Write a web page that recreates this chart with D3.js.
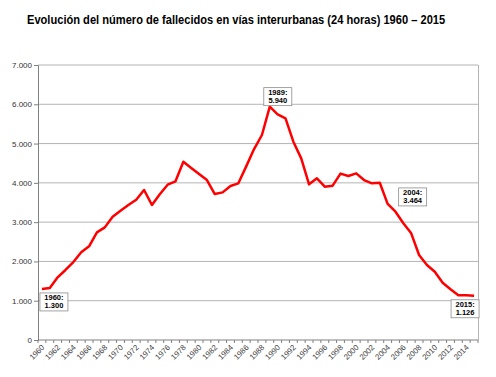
<!DOCTYPE html>
<html>
<head>
<meta charset="utf-8">
<script src="https://cdn.jsdelivr.net/npm/d3@7"></script>
<style>
  body { margin: 0; background: #fff; }
  text { font-family: Arial, "Liberation Sans", sans-serif; }
</style>
</head>
<body>
<div id="chart"></div>
<script>
// data
const years = d3.range(1960, 2016)
const deaths = [
  1300, 1325, 1595, 1782, 1985, 2232, 2384, 2740, 2867, 3139,
  3292, 3436, 3571, 3818, 3436, 3708, 3953, 4039, 4538, 4380,
  4225, 4072, 3716, 3758, 3919, 3988, 4420, 4861, 5218, 5940,
  5744, 5643, 5047, 4624, 3962, 4115, 3902, 3928, 4235, 4174,
  4242, 4072, 3988, 4004, 3464, 3266, 2970, 2715, 2163, 1909,
  1739, 1459, 1290, 1137, 1137, 1126
]
const yTicks = [0, 1000, 2000, 3000, 4000, 5000, 6000, 7000]
const labelYears = years.filter(y => (y - 1960) % 2 === 0)
const notes = [1960, 1989, 2004, 2015]
// where each note box sits relative to its point
const noteOffset = [[12, 13], [8, -10], [25, -7], [-9, 13]]

const width = 496
const height = 377
const margin = { top: 65, right: 18, bottom: 37, left: 38 }

const svg = d3.select("#chart")
  .append("svg")
  .attr("width", width)
  .attr("height", height)

// title is a condensed face in the original, squeeze it horizontally
const title = svg.append("text")
  .attr("transform", "translate(27,24) scale(0.86,1)")
  .style("font-weight", "bold")
  .style("font-size", "12.5px")
  .style("fill", "#000")
  .text("Evolución del número de fallecidos en vías interurbanas (24 horas) 1960 – 2015")
const tw = title.node().getComputedTextLength()
title.attr("transform", `translate(27,24) scale(${Math.min(1, 418 / tw)},1)`)

const x = d3.scaleBand()
  .domain(years)
  .range([margin.left, width - margin.right])

const y = d3.scaleLinear()
  .domain([0, 7000])
  .range([height - margin.bottom, margin.top])

const es = d3.formatLocale({ decimal: ",", thousands: ".", grouping: [3], currency: ["", ""] })
const fmt = es.format(",d")

// gridlines
svg.append("g")
  .selectAll("line")
  .data(yTicks.slice(1))
  .join("line")
  .attr("x1", margin.left)
  .attr("x2", width - margin.right)
  .attr("y1", d => y(d))
  .attr("y2", d => y(d))
  .style("stroke", "#b4b4b4")
  .style("stroke-width", 1)

// right border of the plot
svg.append("line")
  .attr("x1", width - margin.right + 0.5)
  .attr("x2", width - margin.right + 0.5)
  .attr("y1", margin.top)
  .attr("y2", height - margin.bottom)
  .style("stroke", "#b4b4b4")

// y axis
const yAxis = svg.append("g")
  .attr("transform", `translate(${margin.left},0)`)
  .call(d3.axisLeft(y).tickValues(yTicks).tickFormat(fmt).tickSize(4).tickPadding(2))
yAxis.select(".domain").style("stroke", "#808080")
yAxis.selectAll(".tick line").style("stroke", "#808080")
yAxis.selectAll("text")
  .style("font-size", "8px")
  .style("fill", "#333")

// x axis
const xAxis = svg.append("g")
  .attr("transform", `translate(0,${height - margin.bottom})`)
xAxis.append("line")
  .attr("x1", margin.left)
  .attr("x2", width - margin.right)
  .style("stroke", "#808080")
xAxis.selectAll("line.tk")
  .data(years.concat([2016]))
  .join("line")
  .attr("class", "tk")
  .attr("x1", (d, i) => margin.left + i * x.step())
  .attr("x2", (d, i) => margin.left + i * x.step())
  .attr("y2", 3)
  .style("stroke", "#808080")
xAxis.selectAll("text")
  .data(labelYears)
  .join("text")
  .attr("transform", d => `translate(${x(d) + x.bandwidth() / 2 + 3},8) rotate(-45)`)
  .attr("text-anchor", "end")
  .style("font-size", "7.8px")
  .style("fill", "#404040")
  .text(d => d)

// line
const cx = d => x(d) + x.bandwidth() / 2
const line = d3.line()
  .x((d, i) => cx(years[i]))
  .y(d => y(d))

svg.append("path")
  .datum(deaths)
  .attr("d", line)
  .style("fill", "none")
  .style("stroke", "#ff0000")
  .style("stroke-width", 2.5)
  .style("stroke-linejoin", "round")

// annotation boxes
const note = svg.append("g")
  .selectAll("g")
  .data(notes)
  .join("g")
  .attr("transform", (d, i) => {
    const v = deaths[years.indexOf(d)]
    return `translate(${cx(d) + noteOffset[i][0]},${y(v) + noteOffset[i][1]})`
  })
note.append("rect")
  .attr("x", -14)
  .attr("y", -9)
  .attr("width", 28)
  .attr("height", 18)
  .style("fill", "#fff")
  .style("stroke", "#8c8c8c")
  .style("stroke-width", 0.8)
note.append("text")
  .attr("text-anchor", "middle")
  .attr("y", -1.5)
  .style("font-size", "7.5px")
  .style("font-weight", "bold")
  .text(d => d + ":")
note.append("text")
  .attr("text-anchor", "middle")
  .attr("y", 6.5)
  .style("font-size", "7.5px")
  .style("font-weight", "bold")
  .text(d => fmt(deaths[years.indexOf(d)]))
</script>
</body>
</html>
